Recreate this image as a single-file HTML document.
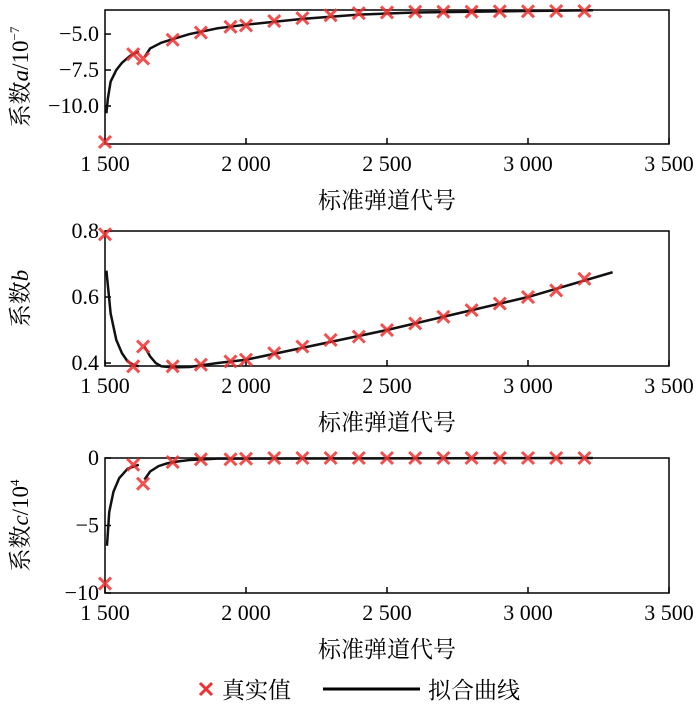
<!DOCTYPE html>
<html><head><meta charset="utf-8"><style>
body{margin:0;background:#fff;}
svg{display:block;font-family:"Liberation Serif","Noto Serif CJK SC",serif;}
</style></head><body>
<svg id="chart" width="700" height="706" viewBox="0 0 700 706">
</svg>
<script>
const xTicks=[1500,2000,2500,3000,3500];
const xTickLabels=["1 500","2 000","2 500","3 000","3 500"];
const trueX=[1500,1600,1635,1740,1840,1945,2000,2100,2200,2300,2400,2500,2600,2700,2800,2900,3000,3100,3200];
const aTrue=[-12.5,-6.4,-6.7,-5.4,-4.9,-4.5,-4.4,-4.1,-3.9,-3.7,-3.55,-3.5,-3.45,-3.45,-3.45,-3.42,-3.42,-3.4,-3.4];
const bTrue=[0.79,0.39,0.45,0.39,0.395,0.405,0.41,0.43,0.45,0.47,0.48,0.50,0.52,0.54,0.56,0.58,0.60,0.62,0.655];
const cTrue=[-9.3,-0.5,-1.9,-0.3,-0.1,-0.1,-0.05,0,0,0,0,0,0,0,0,0,0,0,0];
const aFit1X=[1505,1510,1520,1540,1560,1590,1620];
const aFit1Y=[-10.5,-9.5,-8.3,-7.5,-7.0,-6.5,-6.2];
const aFit2X=[1640,1660,1700,1750,1800,1900,2000,2200,2400,2600,2800,3000,3230];
const aFit2Y=[-6.6,-6.0,-5.6,-5.3,-5.0,-4.6,-4.35,-3.95,-3.65,-3.5,-3.45,-3.4,-3.35];
const bFit1X=[1505,1520,1540,1560,1580,1600,1620];
const bFit1Y=[0.68,0.55,0.47,0.43,0.405,0.395,0.39];
const bFit2X=[1640,1660,1680,1700,1740,1800,1900,2000,2500,3000,3300];
const bFit2Y=[0.45,0.42,0.40,0.39,0.387,0.388,0.40,0.41,0.50,0.60,0.675];
const cFit1X=[1507,1515,1530,1550,1580,1620];
const cFit1Y=[-6.5,-4.0,-2.5,-1.5,-0.8,-0.5];
const cFit2X=[1640,1660,1690,1720,1760,1800,1900,3230];
const cFit2Y=[-1.6,-1.0,-0.6,-0.4,-0.25,-0.15,-0.05,0];
const aTicks=[-5.0,-7.5,-10.0], aTickLabels=["−5.0","−7.5","−10.0"];
const bTicks=[0.8,0.6,0.4], bTickLabels=["0.8","0.6","0.4"];
const cTicks=[0,-5,-10], cTickLabels=["0","−5","−10"];

const NS="http://www.w3.org/2000/svg";
const svg=document.getElementById('chart');
function mk(tag,attrs,parent){const e=document.createElementNS(NS,tag);for(const k in attrs)e.setAttribute(k,attrs[k]);(parent||svg).appendChild(e);return e;}
const L=105,R=669;
function sx(v){return L+(v-1500)/2000*(R-L);}

function panel(name,top,bottom,ymin,ymax,ticks,tlabels,trueY,fits,titleHTML){
  const g=mk('g',{});
  
  
  const sy=v=>bottom-(v-ymin)/(ymax-ymin)*(bottom-top);
  const box=mk('rect',{x:L,y:top,width:R-L,height:bottom-top,fill:'none',stroke:'#000','stroke-width':1.5},g);
  
  
  xTicks.forEach((t,i)=>{
    const tk=mk('line',{x1:sx(t),x2:sx(t),y1:bottom,y2:bottom-6,stroke:'#000','stroke-width':1.5},g);
    
    
    const tx=mk('text',{x:sx(t),y:bottom+27,'text-anchor':'middle','font-size':22},g);
    tx.textContent=xTickLabels[i];
    
    
  });
  ticks.forEach((t,i)=>{
    const tk=mk('line',{x1:L,x2:L+6,y1:sy(t),y2:sy(t),stroke:'#000','stroke-width':1.5},g);
    
    
    const tx=mk('text',{x:L-6,y:sy(t)+7,'text-anchor':'end','font-size':22},g);
    tx.textContent=tlabels[i];
    
    
  });
  const xt=mk('text',{x:387,y:bottom+64,'text-anchor':'middle','font-size':23},g);
  xt.textContent='标准弹道代号';
  
  
  const yt=mk('text',{x:0,y:0,'text-anchor':'middle','font-size':23,transform:`translate(28,${(top+bottom)/2}) rotate(-90)`},g);
  yt.innerHTML=titleHTML;
  
  
  fits.forEach(([fx,fy])=>{
    const p=mk('polyline',{points:fx.map((x,i)=>sx(x)+','+sy(fy[i])).join(' '),fill:'none',stroke:'#111','stroke-width':2.5},g);
    
    
  });
  trueX.forEach((x,i)=>{
    const cx=sx(x),cy=sy(trueY[i]),s=6;
    const m=mk('path',{d:`M${cx-s},${cy-s}L${cx+s},${cy+s}M${cx-s},${cy+s}L${cx+s},${cy-s}`,stroke:'#f03030','stroke-width':3,'stroke-opacity':0.85},g);
    
    
  });
}
panel('a',10,144,-12.64,-3.33,aTicks,aTickLabels,aTrue,[[aFit1X,aFit1Y],[aFit2X,aFit2Y]],'系数<tspan font-style="italic">a</tspan>/10<tspan font-size="13" dy="-9">−7</tspan>');
panel('b',231,366,0.391,0.8,bTicks,bTickLabels,bTrue,[[bFit1X,bFit1Y],[bFit2X,bFit2Y]],'系数<tspan font-style="italic">b</tspan>');
panel('c',458,593,-10,0,cTicks,cTickLabels,cTrue,[[cFit1X,cFit1Y],[cFit2X,cFit2Y]],'系数<tspan font-style="italic">c</tspan>/10<tspan font-size="13" dy="-9">4</tspan>');

const lg=mk('g',{});


const lm=mk('path',{d:'M200,683L212,695M200,695L212,683',stroke:'#f03030','stroke-width':3},lg);


const lt1=mk('text',{x:222,y:698,'font-size':23},lg);
lt1.textContent='真实值';


const ll=mk('line',{x1:323,x2:420,y1:689,y2:689,stroke:'#000','stroke-width':3},lg);


const lt2=mk('text',{x:428,y:698,'font-size':23},lg);
lt2.textContent='拟合曲线';


</script>
</body></html>
